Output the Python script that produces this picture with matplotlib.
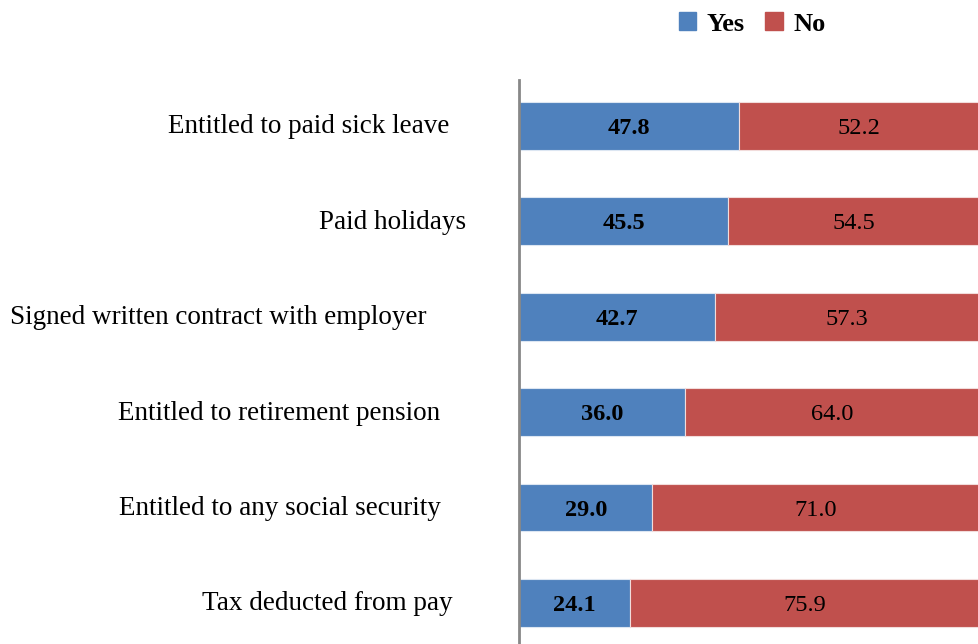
import matplotlib
matplotlib.use("Agg")
import matplotlib.pyplot as plt
from matplotlib.patches import Rectangle

categories = ["Entitled to paid sick leave", "Paid holidays",
              "Signed written contract with employer",
              "Entitled to retirement pension",
              "Entitled to any social security", "Tax deducted from pay"]
yes_vals = [47.8, 45.5, 42.7, 36.0, 29.0, 24.1]
no_vals = [52.2, 54.5, 57.3, 64.0, 71.0, 75.9]

# right edge of each category label, in figure pixels (layout only)
label_right_px = [449, 466, 427, 440, 441, 453]

BLUE = "#4F81BD"
RED = "#C0504D"
FONT = "Liberation Serif"

W, H = 979, 644
fig = plt.figure(figsize=(W / 100, H / 100), dpi=100)
ax = fig.add_axes([519 / W, 0, 460 / W, (644 - 80) / H])

n = len(categories)
ypos = list(range(n))
ax.barh(ypos, yes_vals, height=0.5, color=BLUE, edgecolor="#dce6f2", linewidth=0.8)
ax.barh(ypos, no_vals, left=yes_vals, height=0.5, color=RED, edgecolor="#f2dcdb", linewidth=0.8)

ax.set_xlim(0, 100)
ax.set_ylim(n - 1 + 0.43, -0.48)

for i in range(n):
    ax.text(yes_vals[i] / 2, i, f"{yes_vals[i]:.1f}", ha="center", va="center_baseline",
            fontsize=17.5, fontweight="bold", family=FONT, color="black")
    ax.text(yes_vals[i] + no_vals[i] / 2, i, f"{no_vals[i]:.1f}", ha="center", va="center_baseline",
            fontsize=17.5, family=FONT, color="black")

for s in ["top", "right", "bottom"]:
    ax.spines[s].set_visible(False)
ax.spines["left"].set_color("#888888")
ax.spines["left"].set_linewidth(2)
ax.set_xticks([])
ax.set_yticks([])

# category labels placed via data y and figure x
for i, lab in enumerate(categories):
    y_disp = ax.transData.transform((0, i))[1]
    ax.annotate(lab, xy=(label_right_px[i], y_disp + 2), xycoords="figure pixels",
                ha="right", va="center_baseline", fontsize=19.5, family=FONT, color="black")

# legend
handles = [Rectangle((0, 0), 1, 1, color=BLUE), Rectangle((0, 0), 1, 1, color=RED)]
leg = fig.legend(handles, ["Yes", "No"], loc="center", bbox_to_anchor=(752 / W, 1 - 24 / H),
                 ncol=2, frameon=False, handlelength=0.65, handleheight=0.65,
                 handletextpad=0.4, columnspacing=0.8,
                 prop={"family": FONT, "weight": "bold", "size": 19})

fig.savefig("out.png", dpi=100)
